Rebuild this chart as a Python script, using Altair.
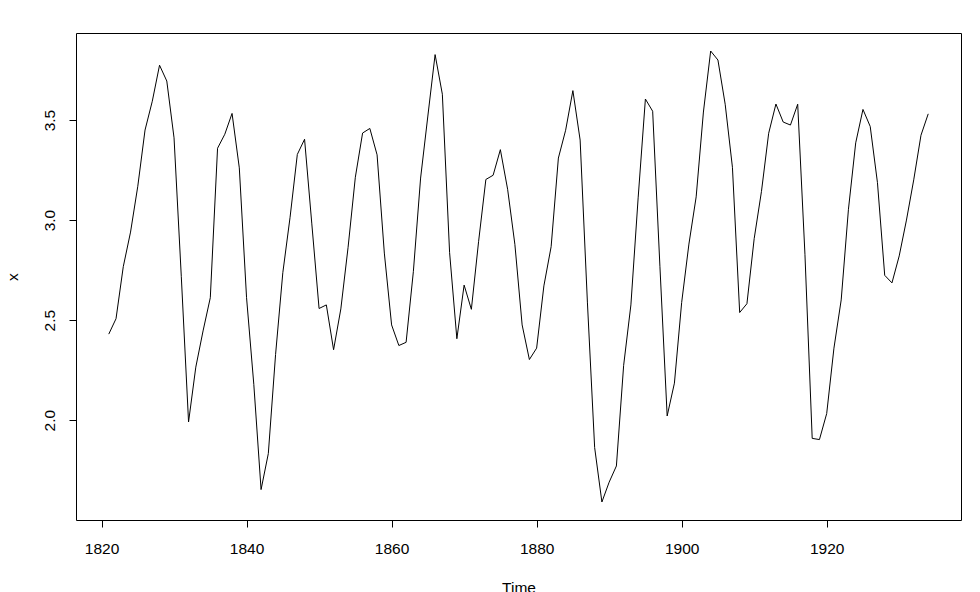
import altair as alt
import pandas as pd

years = list(range(1821, 1935))
values = [
    2.430, 2.507, 2.767, 2.940, 3.169, 3.450, 3.594, 3.774, 3.695, 3.411,
    2.719, 1.991, 2.265, 2.446, 2.612, 3.359, 3.429, 3.533, 3.261, 2.612,
    2.179, 1.653, 1.833, 2.328, 2.737, 3.014, 3.328, 3.404, 2.981, 2.558,
    2.576, 2.352, 2.556, 2.864, 3.214, 3.435, 3.458, 3.326, 2.835, 2.476,
    2.373, 2.389, 2.742, 3.210, 3.520, 3.827, 3.629, 2.837, 2.407, 2.675,
    2.554, 2.894, 3.203, 3.224, 3.352, 3.154, 2.879, 2.476, 2.303, 2.360,
    2.671, 2.867, 3.310, 3.449, 3.647, 3.400, 2.590, 1.863, 1.591, 1.690,
    1.771, 2.274, 2.576, 3.111, 3.605, 3.544, 2.769, 2.021, 2.185, 2.588,
    2.880, 3.116, 3.540, 3.845, 3.800, 3.579, 3.264, 2.538, 2.582, 2.907,
    3.142, 3.434, 3.580, 3.490, 3.475, 3.579, 2.829, 1.909, 1.903, 2.033,
    2.360, 2.601, 3.054, 3.386, 3.553, 3.468, 3.187, 2.724, 2.686, 2.821,
    3.000, 3.201, 3.424, 3.531,
]
x_ticks = [1820, 1840, 1860, 1880, 1900, 1920]
y_ticks = [2.0, 2.5, 3.0, 3.5]

df = pd.DataFrame({"Time": years, "x": values})

FONT = "Liberation Sans"

chart = (
    alt.Chart(df)
    .mark_line(color="black", strokeWidth=1)
    .encode(
        x=alt.X(
            "Time:Q",
            scale=alt.Scale(domain=[1816.48, 1938.52], nice=False, zero=False),
            axis=alt.Axis(
                values=x_ticks,
                format="d",
                title="Time",
                domain=False,
                grid=False,
                tickSize=7,
                tickColor="black",
                labelPadding=14,
                labelFontSize=15.5,
                labelColor="black",
                labelFont=FONT,
                titleFont=FONT,
                titleFontSize=15.5,
                titleFontWeight="normal",
                titleColor="black",
                titlePadding=24,
                labelFlush=False,
            ),
        ),
        y=alt.Y(
            "x:Q",
            scale=alt.Scale(domain=[1.501, 3.935], nice=False, zero=False),
            axis=alt.Axis(
                values=y_ticks,
                format=".1f",
                title="x",
                domain=False,
                grid=False,
                tickSize=7,
                tickColor="black",
                labelAngle=270,
                labelAlign="center",
                labelBaseline="alphabetic",
                labelPadding=15,
                labelFontSize=15.5,
                labelColor="black",
                labelFont=FONT,
                titleFont=FONT,
                titleFontSize=15.5,
                titleFontWeight="normal",
                titleColor="black",
                titlePadding=22,
                labelFlush=False,
            ),
        ),
    )
    .properties(
        width=885,
        height=487,
        autosize=alt.AutoSizeParams(type="none"),
        padding={"left": 68, "top": 25, "right": 10, "bottom": 90},
        background="white",
    )
    .configure_view(stroke="black", strokeWidth=1)
)

chart.save("out.html", embed_options={"renderer": "svg", "actions": False})
